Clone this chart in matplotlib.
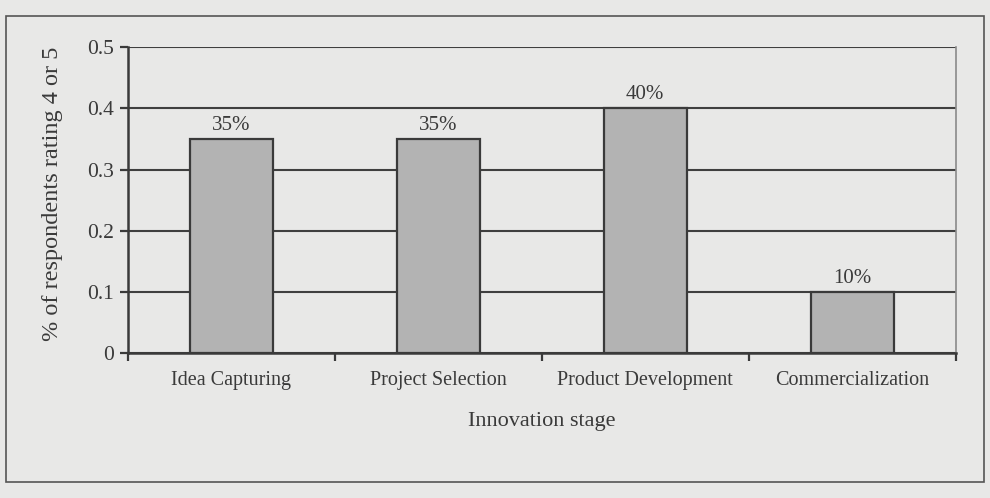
import matplotlib.pyplot as plt
from matplotlib.patches import Rectangle

# Chart data
stages = ['Idea Capturing', 'Project Selection', 'Product Development', 'Commercialization']
share = [0.35, 0.35, 0.40, 0.10]
share_labels = ['35%', '35%', '40%', '10%']
y_ticks = [0, 0.1, 0.2, 0.3, 0.4, 0.5]
y_tick_labels = ['0', '0.1', '0.2', '0.3', '0.4', '0.5']

paper = '#e8e8e7'
ink = '#3a3a3a'
bar_fill = '#b3b3b3'

plt.rcParams['font.family'] = ['Liberation Serif', 'DejaVu Serif']

fig = plt.figure(figsize=(9.9, 4.98), dpi=100, facecolor=paper)

# outer frame around the whole figure
fig.patches.append(Rectangle((0.006, 0.032), 0.988, 0.936, transform=fig.transFigure,
                             fill=False, edgecolor='#555555', linewidth=1.2))

ax = fig.add_axes([0.1293, 0.291, 0.836, 0.614])
ax.set_facecolor(paper)

x = range(len(stages))
ax.bar(x, share, width=0.4, color=bar_fill, edgecolor=ink, linewidth=1.6, zorder=3)

for xi, v, lab in zip(x, share, share_labels):
    ax.annotate(lab, (xi, v), xytext=(0, 3), textcoords='offset points',
                ha='center', va='bottom', fontsize=15, color=ink)

ax.set_xlim(-0.5, 3.5)
ax.set_ylim(0, 0.5)
ax.set_yticks(y_ticks)
ax.set_yticklabels(y_tick_labels)
ax.yaxis.grid(True, color='#3f3f3f', linewidth=1.5, zorder=1)

# category names at centers, tick marks between categories
ax.set_xticks(list(x))
ax.set_xticklabels(stages)
ax.set_xticks([-0.5, 0.5, 1.5, 2.5, 3.5], minor=True)
ax.tick_params(axis='x', which='major', length=0, pad=13, labelsize=14.5, labelcolor=ink)
ax.tick_params(axis='x', which='minor', length=6, width=1.6, color=ink, direction='out')
ax.tick_params(axis='y', length=6, width=1.6, color=ink, pad=4, labelsize=15.5, labelcolor=ink)

for side in ['left', 'bottom']:
    ax.spines[side].set_color(ink)
    ax.spines[side].set_linewidth(1.8)
ax.spines['top'].set_visible(False)
ax.spines['right'].set_color('#8a8a8a')
ax.spines['right'].set_linewidth(1.2)

ax.set_xlabel('Innovation stage', fontsize=16, color=ink, labelpad=16)
ax.set_ylabel('% of respondents rating 4 or 5', fontsize=17.5, color=ink)
ax.yaxis.set_label_coords(-0.078, 0.52)

fig.savefig('out.png', dpi=100, facecolor=paper)
